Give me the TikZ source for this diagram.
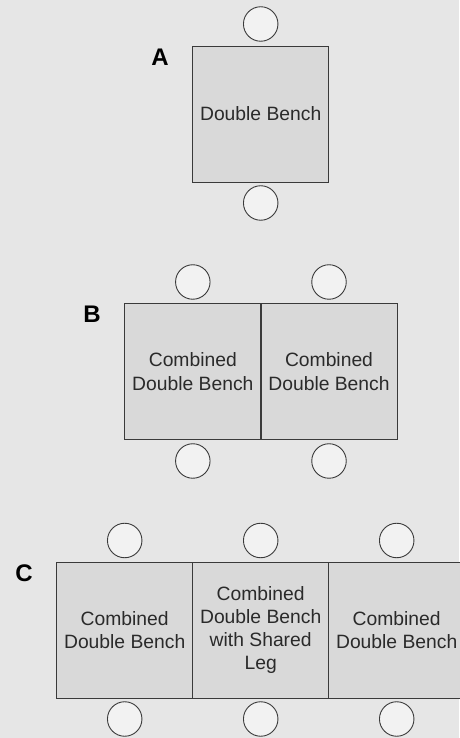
\documentclass[tikz,border=0pt]{standalone}
\usepackage{fontspec}
\setmainfont{Liberation Sans}
\definecolor{bg}{HTML}{E6E6E6}
\definecolor{benchfill}{HTML}{D9D9D9}
\definecolor{seatfill}{HTML}{F2F2F2}
\definecolor{edge}{HTML}{3A3A3A}
\definecolor{txt}{HTML}{2A2A2A}
\begin{document}
\begin{tikzpicture}[x=1pt,y=1pt,
  bench/.style={draw=edge,fill=benchfill,line width=0.9pt,minimum width=136pt,minimum height=136pt,inner sep=0pt,
    align=center,text=txt,font=\fontsize{19.3}{23.3}\selectfont},
  seat/.style={circle,draw=edge,fill=seatfill,line width=0.9pt,minimum size=34.5pt,inner sep=0pt},
  lbl/.style={font=\fontsize{24}{26}\selectfont\bfseries,text=black,inner sep=0pt}]
\fill[bg] (0,0) rectangle (459,738);
\useasboundingbox (0,0) rectangle (459,738);
% A
\node[bench] (a1) at (260.7,624) {Double Bench};
\node[seat] (as1) at (260.7,714) {};
\node[seat] (as2) at (260.7,535) {};
\node[lbl] (la) at (160,681) {A};
% B
\node[bench] (b1) at (192.8,366.3) {Combined\\Double Bench};
\node[bench] (b2) at (329,366.3) {Combined\\Double Bench};
\node[seat] (bs1) at (192.8,456) {};
\node[seat] (bs2) at (329,456) {};
\node[seat] (bs3) at (192.8,277) {};
\node[seat] (bs4) at (329,277) {};
\node[lbl] (lb) at (92,424) {B};
% C
\node[bench] (c1) at (124.7,108) {Combined\\Double Bench};
\node[bench] (c2) at (260.7,108) {Combined\\Double Bench\\with Shared\\Leg};
\node[bench] (c3) at (396.7,108) {Combined\\Double Bench};
\node[seat] (cs1) at (124.7,197.5) {};
\node[seat] (cs2) at (260.7,197.5) {};
\node[seat] (cs3) at (396.7,197.5) {};
\node[seat] (cs4) at (124.7,19) {};
\node[seat] (cs5) at (260.7,19) {};
\node[seat] (cs6) at (396.7,19) {};
\node[lbl] (lc) at (24,165) {C};
\end{tikzpicture}
\end{document}
